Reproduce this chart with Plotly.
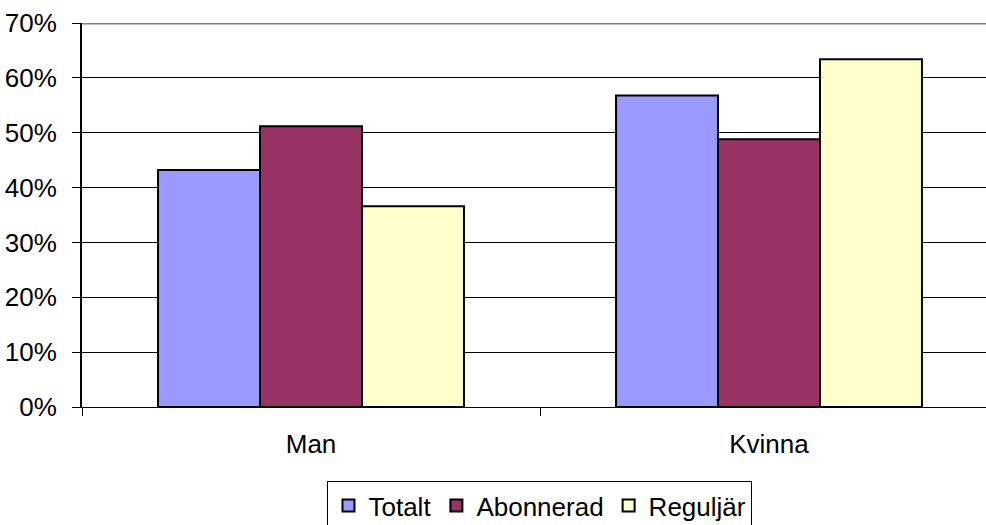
import plotly.graph_objects as go

categories = ["Man", "Kvinna"]
series_names = ["Totalt", "Abonnerad", "Reguljär"]
totalt = [0.432, 0.568]
abonnerad = [0.512, 0.488]
reguljar = [0.366, 0.634]
colors = ["#9999FF", "#993366", "#FFFFCC"]
tick_vals = [0, 0.1, 0.2, 0.3, 0.4, 0.5, 0.6, 0.7]
tick_text = ["0%", "10%", "20%", "30%", "40%", "50%", "60%", "70%"]

fig = go.Figure()
for name, vals, col in zip(series_names, [totalt, abonnerad, reguljar], colors):
    fig.add_trace(go.Bar(
        x=categories, y=vals, name=name,
        marker=dict(color=col, line=dict(color="black", width=2)),
    ))

fig.update_layout(
    width=986, height=525,
    margin=dict(l=82, r=0, t=23, b=118, autoexpand=False),
    paper_bgcolor="white", plot_bgcolor="white",
    barmode="group", bargap=0.332, bargroupgap=0,
    font=dict(family="Liberation Sans, Arial, sans-serif", size=26, color="black"),
    showlegend=True,
    legend=dict(
        orientation="h", x=0.5066, xanchor="center", y=-0.193, yanchor="top",
        bordercolor="black", borderwidth=1, font=dict(size=26),
        itemwidth=30, tracegroupgap=0, traceorder="normal",
    ),
)
fig.update_xaxes(
    range=[-0.5, -0.5 + 904 / 458],
    showline=True, linecolor="black", linewidth=1,
    tickson="boundaries", ticks="outside", ticklen=8, tickcolor="black",
    showgrid=False, zeroline=False, fixedrange=True,
    tickfont=dict(size=26), ticklabelstandoff=14,
)
fig.update_yaxes(
    range=[0, 0.7], tickvals=tick_vals, ticktext=tick_text,
    showline=True, linecolor="black", linewidth=2,
    ticks="outside", ticklen=8, tickcolor="black",
    showgrid=True, gridcolor="black", gridwidth=1, fixedrange=True,
    zeroline=False, tickfont=dict(size=26), ticklabelstandoff=10,
)
fig.add_shape(type="line", xref="paper", yref="y", x0=0, x1=1, y0=0.7, y1=0.7,
              line=dict(color="#808080", width=3))

fig.write_html(
    "out.html",
    config={"displayModeBar": False},
    post_script="document.body.style.margin='0';document.body.style.overflow='hidden';",
)
